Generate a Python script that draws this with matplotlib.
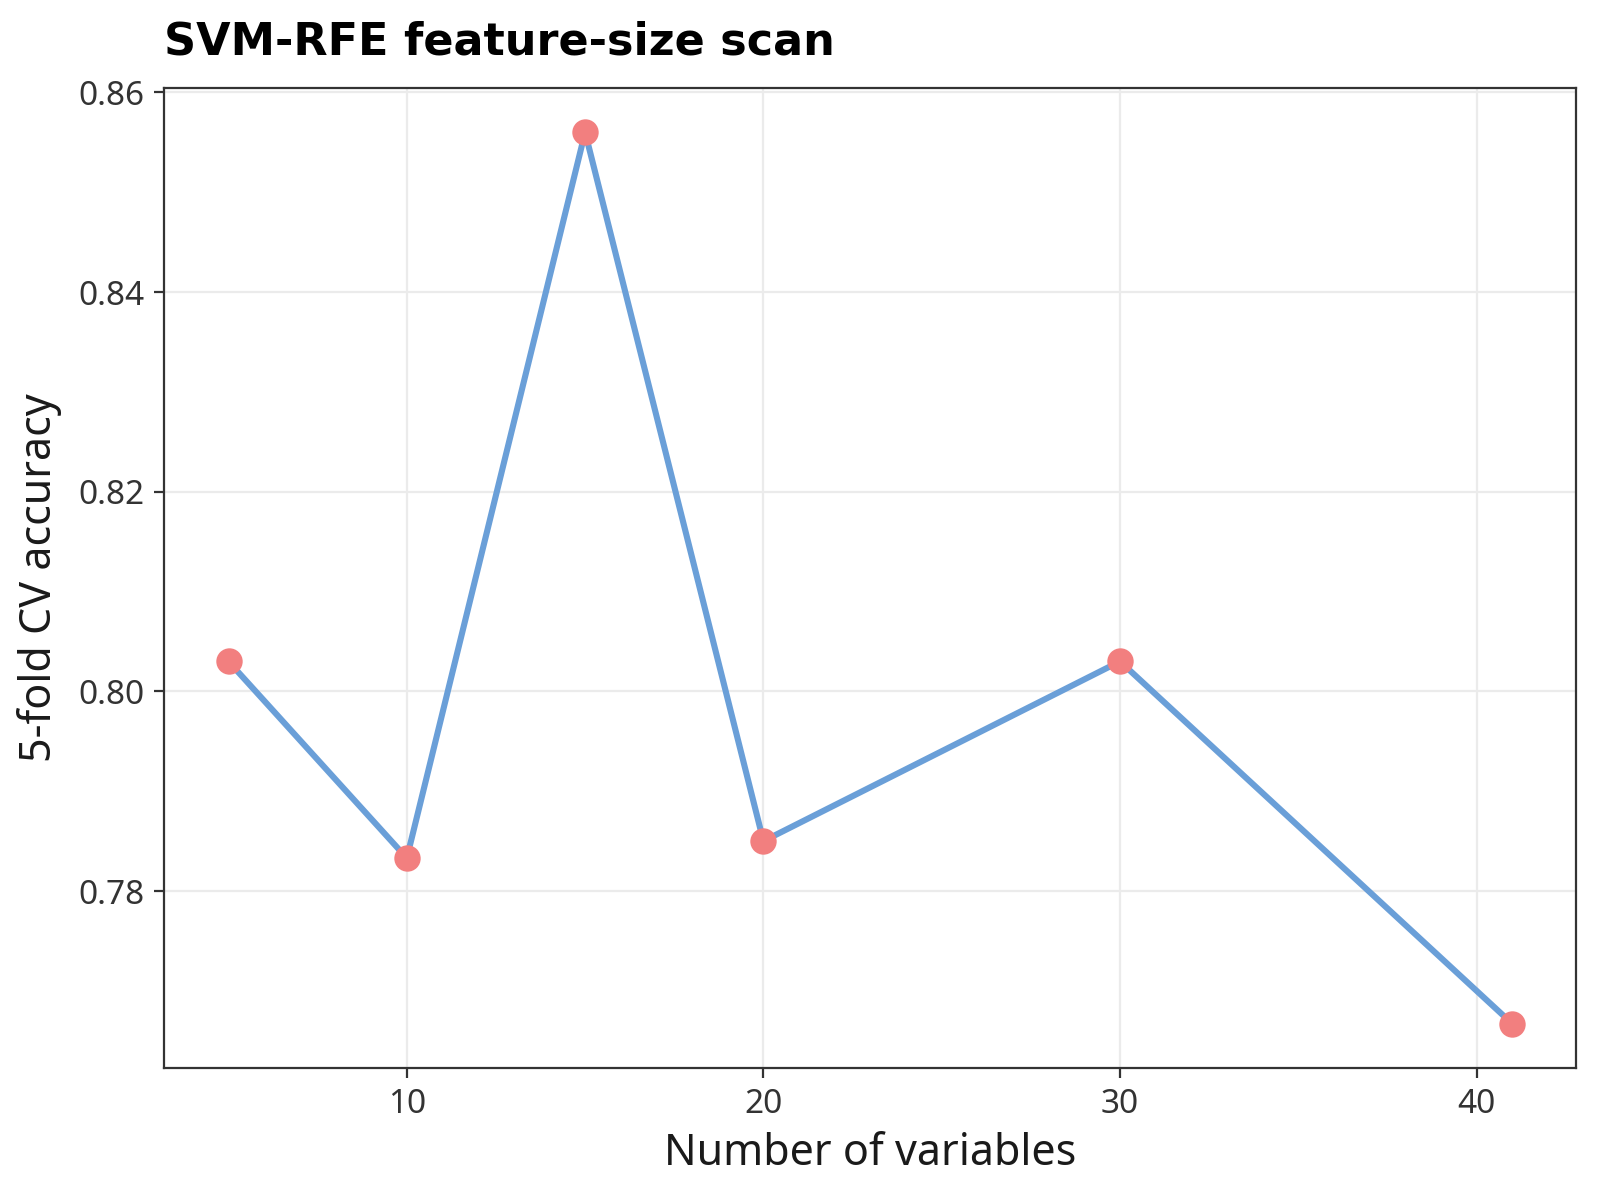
import numpy as np
import matplotlib.pyplot as plt

# RFE scan results
n_vars = [5, 10, 15, 20, 30, 41]
cv_acc = [0.803, 0.7833, 0.856, 0.785, 0.803, 0.7667]
x_ticks = [10, 20, 30, 40]
y_ticks = [0.78, 0.80, 0.82, 0.84, 0.86]

plt.rcParams['font.family'] = ['Noto Sans', 'DejaVu Sans']

fig = plt.figure(figsize=(8, 6), dpi=200)
ax = fig.add_axes([0.1027, 0.1097, 0.8826, 0.8172])

ax.plot(n_vars, cv_acc, color='#6A9FD8', linewidth=2.2, zorder=2)
ax.plot(n_vars, cv_acc, 'o', color='#F27F7F', markersize=9.5, markeredgewidth=0, zorder=3)

# ggplot-like expansion of 5%
xr = max(n_vars) - min(n_vars)
yr = max(cv_acc) - min(cv_acc)
ax.set_xlim(min(n_vars) - 0.05 * xr, max(n_vars) + 0.05 * xr)
ax.set_ylim(min(cv_acc) - 0.05 * yr, max(cv_acc) + 0.05 * yr)

ax.set_xticks(x_ticks)
ax.set_yticks(y_ticks)
ax.set_yticklabels(['{:.2f}'.format(v) for v in y_ticks])

ax.grid(True, color='#EBEBEB', linewidth=0.8)
ax.set_axisbelow(True)
for s in ax.spines.values():
    s.set_color('#333333')
    s.set_linewidth(0.8)
ax.tick_params(colors='#333333', length=3.5, width=0.8, labelsize=12)
for lab in ax.get_xticklabels() + ax.get_yticklabels():
    lab.set_color('#333333')

ax.set_xlabel('Number of variables', fontsize=15.5, color='#1A1A1A', labelpad=4)
ax.set_ylabel('5-fold CV accuracy', fontsize=15.5, color='#1A1A1A', labelpad=6)
ax.set_title('SVM-RFE feature-size scan', loc='left', fontsize=16, fontweight='bold',
             family='DejaVu Sans', pad=12)

plt.savefig('out.png', dpi=200)
